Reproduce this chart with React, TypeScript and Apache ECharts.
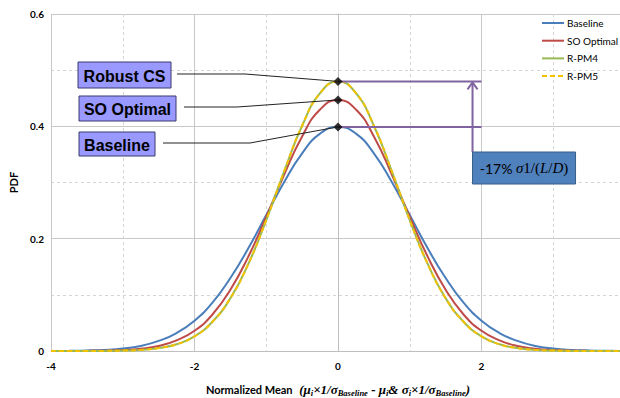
import React, { useEffect, useRef } from "react";
import * as echarts from "echarts";

const xValues = [-4, -3.75, -3.5, -3.25, -3, -2.75, -2.5, -2.25, -2, -1.75, -1.5, -1.25, -1, -0.75, -0.5, -0.25, 0, 0.25, 0.5, 0.75, 1, 1.25, 1.5, 1.75, 2, 2.25, 2.5, 2.75, 3, 3.25, 3.5, 3.75, 4];
const baseline = [0.0001, 0.0004, 0.0009, 0.002, 0.0044, 0.009, 0.018, 0.032, 0.054, 0.086, 0.13, 0.183, 0.242, 0.301, 0.352, 0.387, 0.399, 0.387, 0.352, 0.301, 0.242, 0.183, 0.13, 0.086, 0.054, 0.032, 0.018, 0.009, 0.0044, 0.002, 0.0009, 0.0004, 0.0001];
const soOptimal = [0, 0.0001, 0.0002, 0.0006, 0.0016, 0.0039, 0.0088, 0.019, 0.036, 0.065, 0.109, 0.168, 0.239, 0.314, 0.382, 0.43, 0.447, 0.43, 0.382, 0.314, 0.239, 0.168, 0.109, 0.065, 0.036, 0.019, 0.0088, 0.0039, 0.0016, 0.0006, 0.0002, 0.0001, 0];
const rpm4 = [0, 0, 0.0001, 0.0002, 0.0007, 0.002, 0.0052, 0.012, 0.026, 0.052, 0.094, 0.155, 0.233, 0.32, 0.401, 0.459, 0.48, 0.459, 0.401, 0.32, 0.233, 0.155, 0.094, 0.052, 0.026, 0.012, 0.0052, 0.002, 0.0007, 0.0002, 0.0001, 0, 0];
const rpm5 = [0, 0, 0.0001, 0.0002, 0.0007, 0.002, 0.0052, 0.012, 0.026, 0.052, 0.094, 0.155, 0.233, 0.32, 0.401, 0.459, 0.48, 0.459, 0.401, 0.32, 0.233, 0.155, 0.094, 0.052, 0.026, 0.012, 0.0052, 0.002, 0.0007, 0.0002, 0.0001, 0, 0];
const seriesNames = ["Baseline", "SO Optimal", "R-PM4", "R-PM5"];
const seriesColors = ["#4A7EBB", "#BE4B48", "#98B954", "#F2C200"];
const peakLabels = ["Robust CS", "SO Optimal", "Baseline"];
const peakValues = [0.48, 0.447, 0.399];
const annotationText = "-17% ";
const bracketEndX = 2;
const arrowX = 1.875;

const FONT = "Lato, 'Liberation Sans', sans-serif";

export default function App() {
  const ref = useRef<HTMLDivElement>(null);
  useEffect(() => {
    if (!ref.current) return;
    const chart = echarts.init(ref.current, null, { renderer: "svg" });
    const pair = (ys: number[]) => xValues.map((x, i) => [x, ys[i]]);
    const curveStyle = (color: string, type: any = "solid") => ({
      type: "line" as const,
      smooth: true,
      symbol: "none",
      showSymbol: false,
      lineStyle: { color, width: 2, type },
      itemStyle: { color },
    });
    chart.setOption({
      animation: false,
      grid: { left: 51, right: -5, top: 14, bottom: 47, outerBoundsMode: "none", containLabel: false },
      xAxis: {
        type: "value",
        min: -4,
        max: 4,
        interval: 2,
        name:
          "{b|Normalized Mean}  {m|(μ}{s|i}{m|×1/σ}{s|Baseline}{m| - μ}{s|i}{m|& σ}{s|i}{m|×1/σ}{s|Baseline}{m|)}",
        nameLocation: "middle",
        nameGap: 31,
        nameTextStyle: {
          rich: {
            b: { fontFamily: FONT, fontWeight: "bold", fontSize: 11, color: "#000" },
            m: { fontFamily: "'Liberation Serif', serif", fontStyle: "italic", fontWeight: "bold", fontSize: 13, color: "#000" },
            s: { fontFamily: "'Liberation Serif', serif", fontStyle: "italic", fontWeight: "bold", fontSize: 8.5, color: "#000", verticalAlign: "bottom", padding: [6, 0, 0, 0] },
          },
        },
        axisLine: { show: true, onZero: false, lineStyle: { color: "#BFBFBF", width: 1 } },
        axisTick: { show: false },
        axisLabel: { fontFamily: FONT, fontWeight: "bold", fontSize: 10, color: "#000", margin: 10, showMaxLabel: false },
        splitLine: { show: true, lineStyle: { color: "#C8C8C8", width: 1 } },
        minorTick: { show: false, splitNumber: 2 },
        minorSplitLine: { show: true, lineStyle: { color: "#D4D4D4", type: [3, 3], width: 1 } },
      },
      yAxis: {
        type: "value",
        min: 0,
        max: 0.6,
        interval: 0.2,
        name: "PDF",
        nameLocation: "middle",
        nameGap: 28,
        nameTextStyle: { fontFamily: FONT, fontWeight: "bold", fontSize: 11, color: "#000" },
        axisLine: { show: true, lineStyle: { color: "#BFBFBF", width: 1 } },
        axisTick: { show: true, length: 3, lineStyle: { color: "#BFBFBF" } },
        axisLabel: { fontFamily: FONT, fontWeight: "bold", fontSize: 10, color: "#000", margin: 7 },
        splitLine: { show: true, lineStyle: { color: "#C8C8C8", width: 1 } },
        minorTick: { show: false, splitNumber: 2 },
        minorSplitLine: { show: true, lineStyle: { color: "#D4D4D4", type: [3, 3], width: 1 } },
      },
      legend: { show: false },
      series: [
        { name: seriesNames[0], data: pair(baseline), ...curveStyle(seriesColors[0]) },
        { name: seriesNames[1], data: pair(soOptimal), ...curveStyle(seriesColors[1]) },
        { name: seriesNames[2], data: pair(rpm4), ...curveStyle(seriesColors[2]) },
        { name: seriesNames[3], data: pair(rpm5), ...curveStyle(seriesColors[3], [5, 3]) },
        {
          name: "bracketTop",
          type: "line",
          symbol: "none",
          data: [[0, peakValues[0]], [bracketEndX, peakValues[0]]],
          lineStyle: { color: "#8064A2", width: 2 },
          z: 3,
        },
        {
          name: "bracketBottom",
          type: "line",
          symbol: "none",
          data: [[0, peakValues[2]], [bracketEndX, peakValues[2]]],
          lineStyle: { color: "#8064A2", width: 2 },
          z: 3,
        },
        {
          name: "peaks",
          type: "scatter",
          symbol: "diamond",
          symbolSize: 9,
          itemStyle: { color: "#000" },
          data: peakValues.map((v) => [0, v]),
          z: 10,
        },
      ],
    });

    const px = (x: number, y: number) => chart.convertToPixel({ gridIndex: 0 }, [x, y]) as number[];
    const boxes = [
      { x: 78, y: 62, w: 93, h: 26, lineFrom: [177, 74], bend: [245, 74] },
      { x: 79, y: 96, w: 97, h: 25, lineFrom: [184, 107], bend: [237, 107] },
      { x: 79, y: 132, w: 76, h: 24, lineFrom: [163, 143], bend: [250, 143] },
    ];
    const graphics: any[] = [];
    // legend
    seriesNames.forEach((name, i) => {
      const y = 23 + i * 17.7;
      graphics.push({
        type: "line",
        shape: { x1: 542, y1: y, x2: 564, y2: y },
        style: { stroke: seriesColors[i], lineWidth: 2, lineDash: i === 3 ? [5, 3] : null },
        z: 20,
      });
      graphics.push({
        type: "text",
        x: 567,
        y: y,
        style: { text: name, fill: "#000", font: "10px Lato, 'Liberation Sans', sans-serif", align: "left", verticalAlign: "middle" },
        z: 20,
      });
    });
    boxes.forEach((b, i) => {
      const target = px(0, peakValues[i]);
      graphics.push({
        type: "rect",
        shape: { x: b.x, y: b.y, width: b.w, height: b.h },
        style: { fill: "#9999FF", stroke: "#3A3A6E", lineWidth: 1 },
        z: 20,
      });
      graphics.push({
        type: "text",
        x: b.x + b.w / 2,
        y: b.y + b.h / 2 + 1,
        style: {
          text: peakLabels[i],
          fill: "#000",
          font: "bold 16px 'Liberation Sans', Arial, sans-serif",
          align: "center",
          verticalAlign: "middle",
        },
        z: 21,
      });
      graphics.push({
        type: "polyline",
        shape: { points: [b.lineFrom, b.bend, target] },
        style: { stroke: "#222", lineWidth: 1, fill: null },
        z: 19,
      });
    });
    const aTop = px(arrowX, peakValues[0]);
    const boxTop = 152;
    graphics.push({
      type: "polyline",
      shape: { points: [[aTop[0], boxTop], [aTop[0], aTop[1] + 1]] },
      style: { stroke: "#8064A2", lineWidth: 2, fill: null },
      z: 15,
    });
    graphics.push({
      type: "polyline",
      shape: { points: [[aTop[0] - 5, aTop[1] + 8], [aTop[0], aTop[1] + 1], [aTop[0] + 5, aTop[1] + 8]] },
      style: { stroke: "#8064A2", lineWidth: 2, fill: null },
      z: 15,
    });
    graphics.push({
      type: "rect",
      shape: { x: aTop[0], y: boxTop, width: 103, height: 32 },
      style: { fill: "#4F81BD", stroke: "#385D8A", lineWidth: 1 },
      z: 20,
    });
    graphics.push({
      type: "text",
      x: aTop[0] + 51.5,
      y: boxTop + 16,
      style: {
        text: "{a|" + annotationText + "}{m|σ}{n|1/(}{m|L}{n|/}{m|D}{n|)}",
        align: "center",
        verticalAlign: "middle",
        rich: {
          a: { fontFamily: FONT, fontSize: 14, color: "#fff" },
          m: { fontFamily: "'Liberation Serif', serif", fontStyle: "italic", fontSize: 15, color: "#fff" },
          n: { fontFamily: "'Liberation Serif', serif", fontSize: 15, color: "#fff" },
        },
      },
      z: 21,
    });
    chart.setOption({ graphic: graphics });
    return () => chart.dispose();
  }, []);
  return <div ref={ref} style={{ position: "absolute", left: 0, top: 0, width: 620, height: 398 }} />;
}
